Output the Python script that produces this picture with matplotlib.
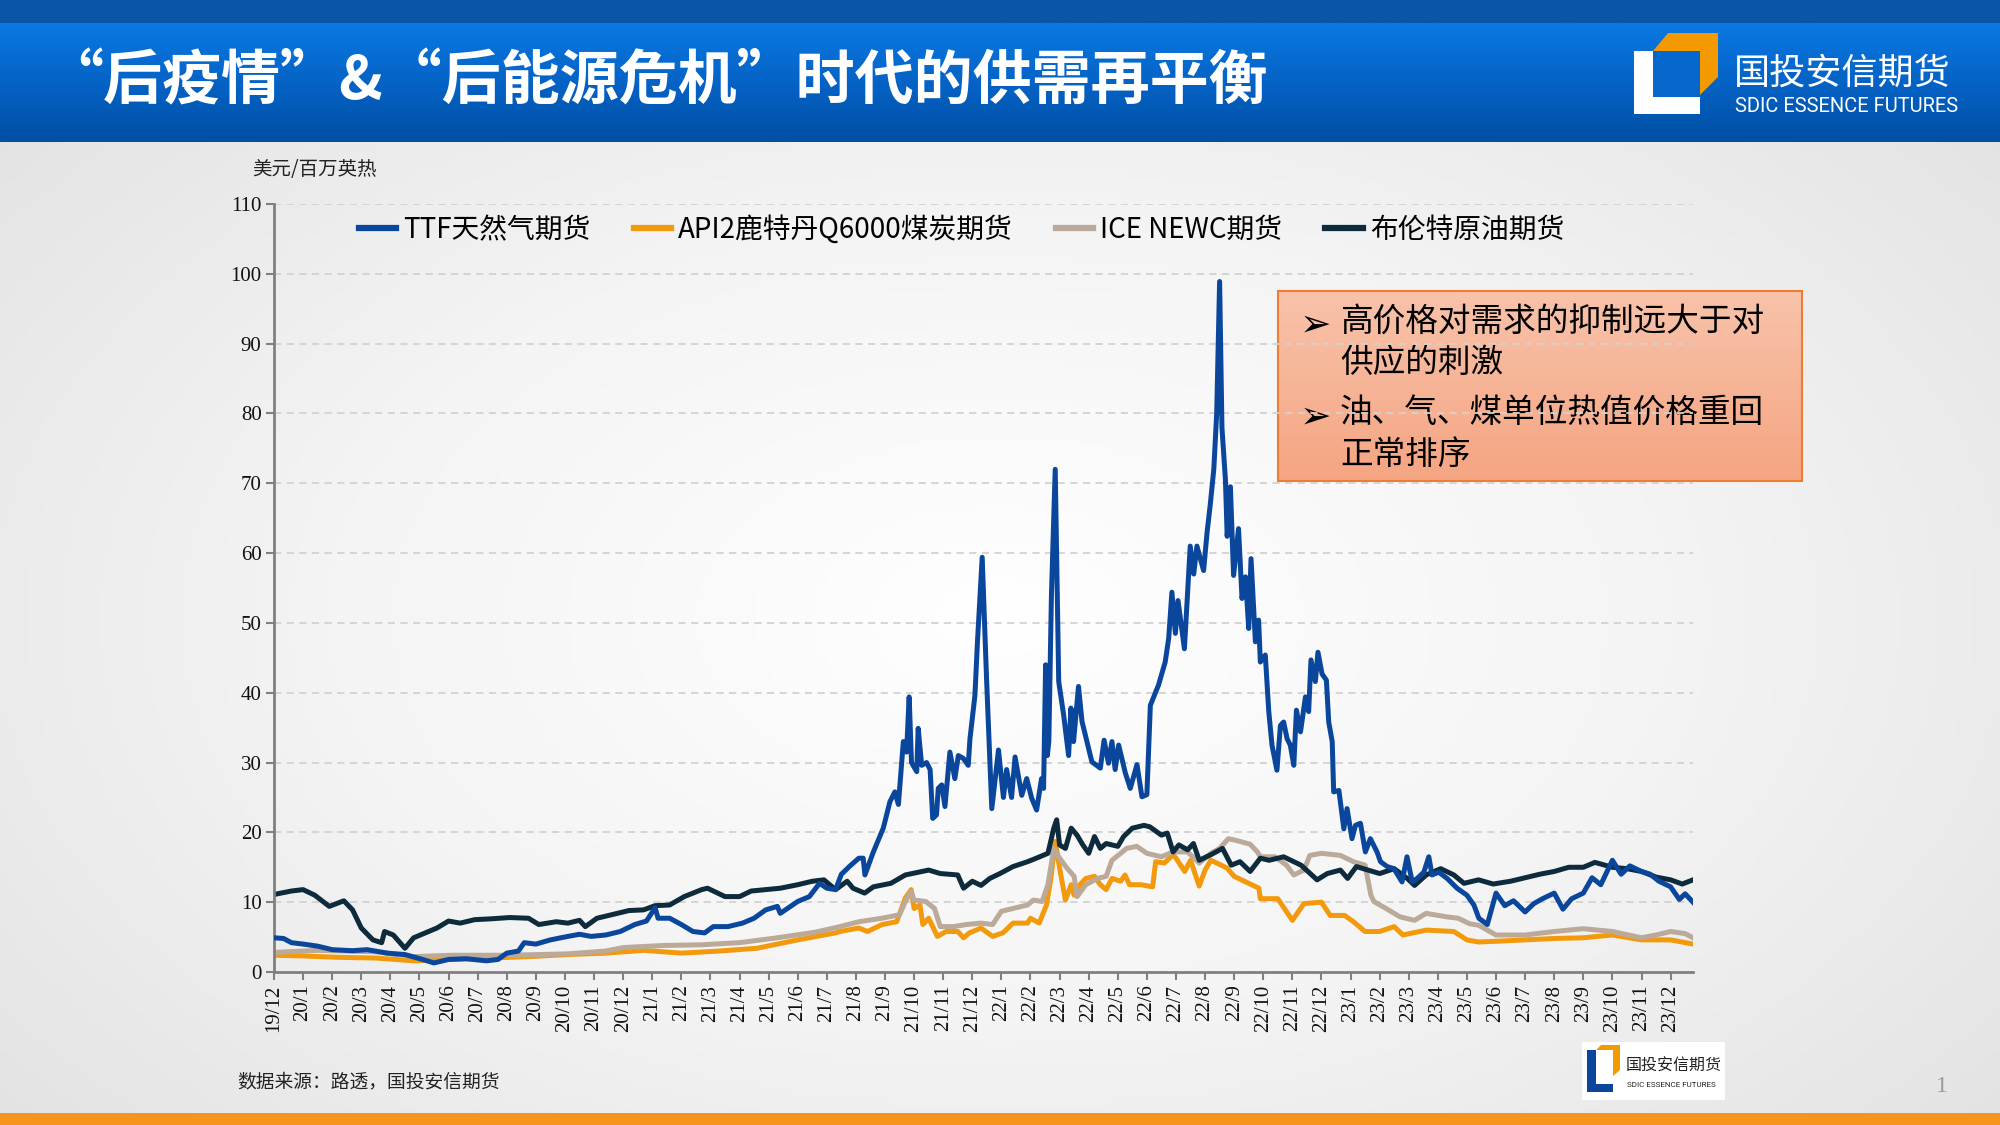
import numpy as np
import matplotlib
matplotlib.use('Agg')
import matplotlib.pyplot as plt
from matplotlib.patches import Rectangle, Polygon
from matplotlib.colors import LinearSegmentedColormap

plt.rcParams['font.family'] = ['Noto Sans CJK SC', 'DejaVu Sans']

# x = months since Dec 2019, y = USD/MMBtu
ttf_t = [0, 0.33, 0.6, 1.0, 1.5, 2.0, 2.7, 3.2, 3.9, 4.5, 5.1, 5.5, 6.0, 6.6, 7.3, 7.7, 8.0, 8.4, 8.6, 9.0,
         9.5, 10.1, 10.5, 10.9, 11.4, 11.9, 12.4, 12.8, 13.1, 13.2, 13.6, 14.0, 14.4, 14.8, 15.1, 15.6, 16.1,
         16.5, 16.9, 17.3, 17.4, 18.0, 18.4, 18.75, 19.0, 19.3, 19.5, 19.8, 20.1, 20.25, 20.31, 20.6, 20.94,
         21.17, 21.34, 21.46, 21.63, 21.74, 21.83, 21.91, 22.09, 22.14, 22.26, 22.43, 22.55, 22.64, 22.77,
         22.83, 22.95, 23.06, 23.23, 23.4, 23.52, 23.69, 23.86, 23.92, 24.09, 24.18, 24.34, 24.49, 24.67,
         24.9, 25.07, 25.18, 25.35, 25.47, 25.7, 25.87, 26.04, 26.21, 26.38, 26.45, 26.52, 26.58, 26.63,
         26.72, 26.85, 26.97, 27.14, 27.31, 27.39, 27.48, 27.65, 27.77, 28.0, 28.11, 28.4, 28.53, 28.68,
         28.8, 28.91, 29.03, 29.26, 29.43, 29.66, 29.83, 30.0, 30.12, 30.4, 30.63, 30.75, 30.86, 30.98,
         31.07, 31.29, 31.49, 31.61, 31.72, 31.95, 32.07, 32.18, 32.3, 32.4, 32.5, 32.58, 32.7, 32.76,
         32.87, 32.98, 33.15, 33.27, 33.39, 33.5, 33.58, 33.73, 33.84, 33.9, 34.07, 34.19, 34.3, 34.47,
         34.59, 34.7, 34.82, 34.93, 35.05, 35.14, 35.28, 35.45, 35.56, 35.64, 35.79, 35.88, 36.02, 36.17,
         36.25, 36.37, 36.42, 36.6, 36.77, 36.88, 37.05, 37.17, 37.34, 37.51, 37.68, 37.91, 38.03, 38.26,
         38.49, 38.77, 38.94, 39.12, 39.29, 39.52, 39.69, 39.8, 40.03, 40.32, 40.66, 41.0, 41.24, 41.41,
         41.7, 42.0, 42.3, 42.6, 43.0, 43.3, 43.6, 44.0, 44.3, 44.6, 45.0, 45.3, 45.6, 46.0, 46.3, 46.6,
         47.0, 47.3, 47.6, 48.0, 48.3, 48.5, 48.77]
ttf_v = [4.9, 4.8, 4.2, 4.0, 3.7, 3.2, 3.05, 3.2, 2.7, 2.5, 1.8, 1.3, 1.8, 1.9, 1.6, 1.8, 2.7, 3.0, 4.2, 4.0,
         4.6, 5.1, 5.4, 5.1, 5.3, 5.8, 6.8, 7.3, 9.2, 7.7, 7.7, 6.8, 5.8, 5.6, 6.5, 6.5, 7.0,
         7.7, 8.9, 9.4, 8.4, 10.1, 10.8, 12.7, 12.0, 11.8, 14.0, 15.2, 16.3, 16.3, 13.9, 17.2, 20.6,
         24.4, 25.8, 24.0, 33.0, 31.5, 39.4, 30.0, 28.7, 34.9, 29.6, 30.0, 29.0, 22.0, 22.5,
         26.3, 26.8, 23.7, 31.5, 27.7, 31.0, 30.6, 29.6, 33.4, 39.6, 47.5, 59.4, 42.0, 23.4,
         31.8, 25.0, 29.0, 25.0, 30.8, 25.3, 27.7, 24.9, 23.2, 27.7, 26.3, 44.0, 31.0, 33.0,
         54.0, 72.0, 41.6, 36.8, 31.0, 37.8, 33.0, 40.9, 35.9, 32.0, 30.1, 29.2, 33.2, 29.9,
         33.0, 29.0, 32.5, 28.5, 26.3, 29.7, 25.1, 25.4, 38.2, 41.1, 44.4, 47.8, 54.4, 48.5,
         53.2, 46.3, 61.0, 57.0, 61.0, 57.5, 63.0, 67.0, 72.0, 80.0, 98.9, 78.0, 70.5, 62.4,
         69.5, 56.8, 63.5, 53.5, 56.6, 49.2, 59.2, 47.3, 50.4, 44.4, 45.4, 37.3, 32.5, 28.9,
         35.3, 35.8, 33.4, 32.5, 29.6, 37.5, 34.4, 39.4, 37.3, 44.7, 41.6, 45.8, 42.7, 41.8,
         35.8, 33.0, 25.8, 26.0, 20.5, 23.4, 19.1, 21.0, 21.3, 17.2, 19.1, 17.2, 15.8, 15.1,
         14.8, 12.9, 16.5, 12.9, 13.4, 14.3, 16.5, 13.9, 14.3, 13.4, 12.0, 11.0, 9.6, 7.7,
         6.8, 11.3, 9.5, 10.2, 8.6, 9.8, 10.5, 11.3, 9.0, 10.5, 11.3, 13.5, 12.5, 16.0, 14.0, 15.2,
         14.4, 14.0, 13.0, 12.2, 10.4, 11.2, 10.0]

api2_t = [0, 1.0, 2.2, 3.5, 4.8, 6.1, 7.4, 8.75, 10.1, 11.4, 12.7, 14.0, 15.3, 16.6, 18.0, 19.3, 19.45,
          20.1, 20.4, 20.9, 21.4, 21.7, 21.9, 22.0, 22.2, 22.3, 22.5, 22.8, 23.1, 23.5, 23.7, 23.9, 24.3,
          24.7, 25.05, 25.4, 25.9, 26.0, 26.3, 26.55, 26.7, 26.85, 27.0, 27.2, 27.4, 27.5, 27.7, 27.9,
          28.2, 28.4, 28.6, 28.8, 29.1, 29.25, 29.4, 29.8, 30.2, 30.3, 30.6, 30.9, 31.0, 31.3, 31.5,
          31.8, 32.0, 32.2, 32.4, 32.75, 33.0, 33.4, 33.85, 33.9, 34.5, 35.0, 35.4, 36.0, 36.3, 36.8,
          37.1, 37.5, 38.0, 38.5, 38.8, 39.6, 40.55, 41.0, 41.4, 42.0, 43.0, 44.0, 45.0, 46.0, 47.0,
          48.0, 48.77]
api2_v = [2.4, 2.3, 2.1, 2.0, 1.6, 1.8, 2.0, 2.2, 2.5, 2.7, 3.1, 2.7, 3.0, 3.4, 4.6, 5.6, 5.8,
          6.3, 5.8, 6.8, 7.2, 10.6, 11.8, 9.1, 9.6, 6.8, 7.7, 5.1, 5.8, 5.8, 4.9, 5.6, 6.3,
          5.1, 5.6, 7.0, 7.0, 7.7, 7.0, 9.6, 13.4, 18.7, 14.9, 10.3, 12.5, 11.0, 12.5, 13.4,
          13.7, 12.5, 11.8, 13.4, 13.0, 13.9, 12.5, 12.5, 12.2, 15.8, 15.6, 16.8, 16.3, 14.4, 16.0,
          12.3, 14.6, 16.0, 15.6, 14.9, 13.7, 12.9, 12.0, 10.5, 10.5, 7.4, 9.8, 10.0, 8.1, 8.1,
          7.2, 5.8, 5.8, 6.5, 5.3, 6.0, 5.8, 4.6, 4.3, 4.4, 4.6, 4.8, 4.9, 5.3, 4.6,
          4.6, 4.0]

newc_t = [0, 1.5, 3.5, 4.8, 6.1, 8.1, 10.1, 11.4, 12.0, 13.4, 14.7, 16.0, 17.3, 18.6, 19.45, 20.1, 20.9,
          21.5, 21.7, 21.9, 22.0, 22.4, 22.7, 22.9, 23.35, 23.8, 24.3, 24.7, 25.0, 25.4, 25.9, 26.1,
          26.4, 26.6, 26.8, 27.0, 27.25, 27.5, 27.6, 27.9, 28.3, 28.6, 28.8, 29.1, 29.3, 29.65, 30.0,
          30.5, 30.9, 31.4, 31.8, 32.2, 32.5, 32.8, 33.2, 33.55, 33.8, 33.9, 34.4, 34.8, 35.05, 35.4,
          35.6, 36.0, 36.65, 37.1, 37.5, 37.7, 37.8, 38.3, 38.7, 39.2, 39.6, 40.3, 40.7, 41.1, 41.4,
          42.0, 43.0, 44.0, 45.0, 46.0, 47.0, 47.5, 48.0, 48.5, 48.77]
newc_v = [2.8, 3.1, 2.9, 2.2, 2.4, 2.4, 2.6, 3.0, 3.5, 3.8, 3.9, 4.2, 4.9, 5.7, 6.5, 7.2, 7.7,
          8.2, 10.1, 11.5, 10.3, 10.1, 9.1, 6.5, 6.5, 6.8, 7.0, 6.8, 8.7, 9.1, 9.6, 10.3,
          10.1, 12.5, 17.7, 16.3, 14.9, 13.7, 10.8, 12.5, 13.4, 13.7, 16.0, 17.0, 17.7, 18.0, 17.0,
          16.5, 17.2, 17.2, 15.6, 17.0, 17.7, 19.1, 18.7, 18.3, 17.2, 16.5, 16.5, 15.3, 13.9, 14.6,
          16.7, 17.0, 16.7, 15.8, 15.3, 11.0, 10.1, 8.9, 7.9, 7.4, 8.4, 7.9, 7.7, 6.9, 6.7,
          5.3, 5.3, 5.8, 6.2, 5.8, 4.9, 5.3, 5.8, 5.5, 4.9]

brent_t = [0, 0.6, 1.0, 1.4, 1.9, 2.4, 2.7, 3.0, 3.4, 3.7, 3.8, 4.1, 4.5, 4.8, 5.2, 5.6, 6.0, 6.4, 6.9,
           7.4, 8.1, 8.75, 9.1, 9.7, 10.1, 10.5, 10.7, 11.1, 11.6, 12.2, 12.7, 13.1, 13.6, 14.1, 14.7,
           14.9, 15.5, 16.0, 16.4, 16.9, 17.4, 18.0, 18.5, 18.9, 19.3, 19.7, 19.9, 20.3, 20.6, 21.2,
           21.7, 22.5, 22.9, 23.5, 23.7, 24.0, 24.3, 24.6, 24.95, 25.4, 25.9, 26.2, 26.6, 26.8, 26.9,
           27.0, 27.2, 27.4, 27.6, 27.8, 28.0, 28.2, 28.4, 28.6, 29.0, 29.2, 29.5, 29.9, 30.1, 30.5,
           30.7, 30.9, 31.1, 31.4, 31.6, 31.8, 32.2, 32.6, 32.9, 33.2, 33.55, 33.9, 34.2, 34.7, 35.3,
           35.85, 36.2, 36.65, 36.9, 37.2, 37.6, 38.0, 38.5, 38.95, 39.2, 39.6, 40.1, 40.55, 40.9,
           41.4, 41.9, 42.5, 43.0, 43.5, 44.0, 44.5, 45.0, 45.4, 46.0, 46.5, 47.0, 47.5, 48.0, 48.4,
           48.77]
brent_v = [11.1, 11.6, 11.8, 11.0, 9.4, 10.2, 8.9, 6.3, 4.6, 4.2, 5.8, 5.3, 3.4, 4.9, 5.6, 6.3, 7.3, 7.0, 7.5,
           7.6, 7.8, 7.7, 6.8, 7.2, 7.0, 7.4, 6.5, 7.7, 8.2, 8.8, 8.9, 9.5, 9.6, 10.8, 11.8,
           12.0, 10.8, 10.8, 11.6, 11.8, 12.0, 12.5, 13.0, 13.2, 11.8, 13.0, 12.0, 11.3, 12.2, 12.7,
           13.9, 14.6, 14.1, 13.9, 12.0, 13.0, 12.4, 13.4, 14.1, 15.1, 15.8, 16.3, 17.0, 20.6, 21.8,
           18.2, 17.7, 20.6, 19.6, 18.2, 17.0, 19.4, 17.7, 18.4, 18.0, 19.4, 20.6, 21.0, 20.8, 19.6,
           19.9, 17.2, 18.2, 17.5, 18.4, 16.0, 16.8, 17.7, 15.3, 15.8, 14.4, 16.3, 16.0, 16.5, 15.3,
           13.2, 14.1, 14.6, 13.4, 15.1, 14.6, 14.1, 14.8, 13.4, 12.4, 13.9, 14.8, 13.9, 12.7,
           13.2, 12.6, 13.0, 13.5, 14.0, 14.4, 15.0, 15.0, 15.7, 15.0, 14.8, 14.4, 13.6, 13.2, 12.6,
           13.2]

series_names = ['TTF天然气期货', 'API2鹿特丹Q6000煤炭期货', 'ICE NEWC期货', '布伦特原油期货']
series_colors = ['#0a479c', '#f39a0c', '#bba99a', '#0d2b3c']

# month tick labels 19/12 ... 23/12
month_labels = ['19/12'] + ['%d/%d' % (y, m) for y in (20, 21, 22, 23) for m in range(1, 13)]

title = '“后疫情”&“后能源危机”时代的供需再平衡'
unit_label = '美元/百万英热'
notes = ['高价格对需求的抑制远大于对\n供应的刺激', '油、气、煤单位热值价格重回\n正常排序']
source = '数据来源：路透，国投安信期货'

W, H = 2000, 1125
fig = plt.figure(figsize=(20, 11.25), dpi=100)

# ---------- background / decorations (pixel coords) ----------
bg = fig.add_axes([0, 0, 1, 1], zorder=-10)
bg.set_xlim(0, W)
bg.set_ylim(H, 0)
bg.axis('off')

yy, xx = np.mgrid[0:1:200j, 0:1:360j]
r = np.sqrt(((xx - 0.5) / 0.75) ** 2 + ((yy - 0.55) / 0.8) ** 2)
bg_cmap = LinearSegmentedColormap.from_list('bgc', ['#ffffff', '#f4f4f4', '#e2e2e2'])
bg.imshow(r, cmap=bg_cmap, extent=[0, W, H, 0], aspect='auto', vmin=0, vmax=0.9, zorder=0)

# header bands
bg.add_patch(Rectangle((0, 0), W, 23, color='#0a55a5', zorder=1, lw=0))
hdr = LinearSegmentedColormap.from_list('hdr', ['#0a79e2', '#0563c6', '#004fa3'])
bg.imshow(np.linspace(0, 1, 100).reshape(-1, 1), cmap=hdr, extent=[0, W, 142, 23],
          aspect='auto', zorder=1)
bg.text(44, 82, title, color='white', fontsize=42.5, fontweight='bold', va='center', ha='left', zorder=3)

# logo top right
bg.add_patch(Polygon([(1634, 51), (1700, 51), (1700, 114), (1634, 114)], color='white', lw=0, zorder=3))
bg.add_patch(Polygon([(1653, 51), (1700, 51), (1700, 97), (1653, 97)], color='#0567cc', lw=0, zorder=4))
bg.add_patch(Polygon([(1653, 51), (1668, 33), (1718, 33), (1718, 77), (1700, 95), (1700, 51)],
                     color='#f29a00', lw=0, zorder=4))
bg.text(1734, 74, '国投安信期货', color='white', fontsize=26, va='center', ha='left', zorder=4)
bg.text(1735, 106, 'SDIC ESSENCE FUTURES', color='white', fontsize=14.5, va='center', ha='left',
        family=['Liberation Sans Narrow', 'Roboto', 'DejaVu Sans'], zorder=4)

# bottom orange bar
bg.add_patch(Rectangle((0, 1113), W, 12, color='#f7941d', lw=0, zorder=1))

# footer
bg.text(237, 1082, source, fontsize=13.5, color='#222222', va='center', ha='left', zorder=3)
bg.text(1942, 1086, '1', fontsize=17, color='#9a9a9a', va='center', ha='center',
        family=['Liberation Serif'], zorder=3)

# small logo bottom
bg.add_patch(Rectangle((1582, 1042), 143, 58, color='white', lw=0, zorder=2))
bg.add_patch(Polygon([(1587, 1050), (1596, 1050), (1596, 1084), (1613, 1084), (1613, 1092), (1587, 1092)],
                     color='#0a479c', lw=0, zorder=3))
bg.add_patch(Polygon([(1596, 1050), (1601, 1045), (1620, 1045), (1620, 1070), (1613, 1076), (1613, 1050)],
                     color='#f29a00', lw=0, zorder=3))
bg.text(1626, 1066, '国投安信期货', fontsize=11.5, color='#222222', va='center', ha='left', zorder=3)
bg.text(1627, 1085, 'SDIC ESSENCE FUTURES', fontsize=5.8, color='#222222', va='center', ha='left',
        family=['Liberation Sans Narrow', 'Roboto', 'DejaVu Sans'], zorder=3)

# annotation box
ann = LinearSegmentedColormap.from_list('ann', ['#f8c3aa', '#f5a582'])
bg.imshow(np.linspace(0, 1, 100).reshape(-1, 1), cmap=ann, extent=[1278, 1802, 481, 291],
          aspect='auto', zorder=5)
bg.add_patch(Rectangle((1278, 291), 524, 190, fill=False, ec='#ed7d31', lw=1.5, zorder=6))
for y, txt in zip([326, 418], notes):
    bg.text(1300, y, '➢', fontsize=27, color='black', va='center', ha='left',
            family=['DejaVu Sans'], zorder=7)
    bg.text(1340, y - 20, txt, fontsize=23.5, color='black', va='top', ha='left',
            linespacing=1.36, zorder=7)

# ---------- chart ----------
ax = fig.add_axes([274 / W, 1 - 972 / H, (1693 - 274) / W, (972 - 204) / H])
ax.set_facecolor('none')

for t, v, name, c in zip([ttf_t, api2_t, newc_t, brent_t], [ttf_v, api2_v, newc_v, brent_v],
                         series_names, series_colors):
    ax.plot(t, v, color=c, lw=3.6, label=name, solid_joinstyle='round')

# draw TTF on top like the reference
ax.lines[0].set_zorder(3)
ax.lines[3].set_zorder(2.5)

ax.set_xlim(0, 48.77)
ax.set_ylim(0, 110)
ax.set_yticks(range(0, 111, 10))
ax.set_xticks(range(len(month_labels)))
ax.set_xticklabels(month_labels, rotation=90, fontsize=15, family=['Liberation Serif'])
for lab in ax.get_yticklabels():
    lab.set_family(['Liberation Serif'])
    lab.set_fontsize(15)

ax.yaxis.grid(True, ls=(0, (4, 3)), color='#d2d2d2', lw=1.3)
ax.set_axisbelow(True)
for s in ['top', 'right']:
    ax.spines[s].set_visible(False)
for s in ['left', 'bottom']:
    ax.spines[s].set_color('#808080')
    ax.spines[s].set_linewidth(2)
ax.tick_params(direction='out', length=6, width=1.5, color='#808080', labelcolor='#111111', pad=3)

fig.text(252 / W, 1 - 170 / H, unit_label, fontsize=14, color='#222222', va='center', ha='left')

leg = ax.legend(loc='center left', bbox_to_anchor=(345 / W, 1 - 230 / H), bbox_transform=fig.transFigure,
                ncol=4, frameon=False, handlelength=1.35, handletextpad=0.25,
                columnspacing=1.55, borderpad=0, prop={'style': 'italic', 'size': 20})
for line in leg.get_lines():
    line.set_linewidth(4.5)

fig.savefig('out.png', dpi=100)
